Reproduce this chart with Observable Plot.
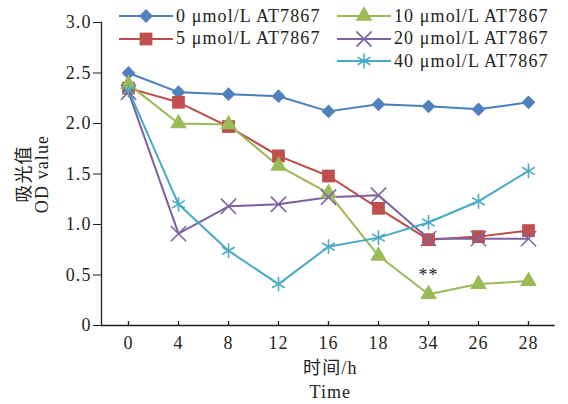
<!DOCTYPE html>
<html><head><meta charset="utf-8">
<script src="https://cdn.jsdelivr.net/npm/d3@7"></script>
<script src="https://cdn.jsdelivr.net/npm/@observablehq/plot@0.6"></script>
<style>
body{margin:0;background:#fff;}
#wrap{position:relative;width:568px;height:404px;font-family:'Liberation Serif','Noto Sans CJK SC',serif;color:#231f20;}
#legend{position:absolute;left:119px;top:5px;display:grid;grid-template-columns:218px 218px;grid-template-rows:repeat(3,22.5px);grid-auto-flow:column;font-size:18px;letter-spacing:1.1px;}
.item{display:flex;align-items:center;white-space:nowrap;}
.item svg{margin-right:3px;display:block;}
</style></head><body><div id="wrap"><div id="legend"></div></div>
<script>
// categories (time points, shown in the original order)
const times = ["0", "4", "8", "12", "16", "18", "34", "26", "28"];
// series names
const seriesNames = ["0 μmol/L AT7867", "5 μmol/L AT7867", "10 μmol/L AT7867", "20 μmol/L AT7867", "40 μmol/L AT7867"];
// OD values per series
const od0  = [2.50, 2.31, 2.29, 2.27, 2.12, 2.19, 2.17, 2.14, 2.21];
const od5  = [2.35, 2.21, 1.97, 1.68, 1.48, 1.16, 0.85, 0.88, 0.94];
const od10 = [2.39, 2.00, 1.99, 1.58, 1.31, 0.69, 0.31, 0.41, 0.44];
const od20 = [2.31, 0.91, 1.18, 1.20, 1.27, 1.29, 0.86, 0.86, 0.86];
const od40 = [2.33, 1.20, 0.74, 0.41, 0.78, 0.87, 1.02, 1.23, 1.53];
const seriesValues = [od0, od5, od10, od20, od40];
// y tick labels
const yTicks = [0, 0.5, 1.0, 1.5, 2.0, 2.5, 3.0];
// annotation
const noteTime = ["34"];
const noteValue = [0.5];
const noteText = ["**"];
// titles
const yTitleCn = "吸光值", yTitleEn = "OD value";
const xTitleCn = "时间/h", xTitleEn = "Time";

// styles
const lineColors   = ["#4A7EBB", "#BE4B48", "#98B954", "#7D60A0", "#46AAC5"];
const markerColors = ["#4F81BD", "#C0504D", "#9BBB59", "#8064A2", "#4BACC6"];
const symbols = ["diamond2", "square", "triangle", "times", "asterisk"];
const d3symbols = [d3.symbolDiamond2, d3.symbolSquare, d3.symbolTriangle, d3.symbolTimes, d3.symbolAsterisk];
const radii = [6.2, 7.2, 6.2, 7, 7];
const filled = [true, true, true, false, false];
const axisColor = "#231f20";

const rows = [];
seriesValues.forEach((vals, si) => vals.forEach((v, i) => rows.push({series: si, time: times[i], value: v})));

const marks = [];
seriesValues.forEach((vals, si) => {
  const data = rows.filter(r => r.series === si);
  marks.push(Plot.line(data, {x: "time", y: "value", stroke: lineColors[si], strokeWidth: 2}));
});
seriesValues.forEach((vals, si) => {
  const data = rows.filter(r => r.series === si);
  marks.push(Plot.dot(data, filled[si]
    ? {x: "time", y: "value", symbol: () => symbols[si], r: radii[si], fill: markerColors[si], stroke: "none"}
    : {x: "time", y: "value", symbol: () => symbols[si], r: radii[si], fill: "none", stroke: markerColors[si], strokeWidth: 1.6}));
});
marks.push(Plot.text(noteTime.map((t, i) => ({time: t, value: noteValue[i], text: noteText[i]})), {x: "time", y: "value", text: "text", fill: axisColor}));

marks.push(Plot.axisY({ticks: yTicks, tickSize: 8, tickPadding: 2, tickFormat: d => d === 0 ? "0" : d.toFixed(1), label: null, stroke: axisColor, fill: axisColor}));
marks.push(Plot.axisX({tickSize: -4, tickPadding: 15, label: null, stroke: axisColor, fill: axisColor, strokeWidth: 1.3}));
marks.push(Plot.ruleY([0], {stroke: axisColor, strokeWidth: 1.3}));
marks.push(Plot.frame({anchor: "left", stroke: axisColor, strokeWidth: 1.3}));

marks.push(Plot.text([yTitleCn], {frameAnchor: "left", text: d => d, rotate: -90, dx: -77, textAnchor: "middle", lineAnchor: "middle", fill: axisColor}));
marks.push(Plot.text([yTitleEn], {frameAnchor: "left", text: d => d, rotate: -90, dx: -59, textAnchor: "middle", lineAnchor: "middle", fill: axisColor}));
marks.push(Plot.text([xTitleCn], {frameAnchor: "bottom", text: d => d, dy: 42.5, dx: 2, textAnchor: "middle", lineAnchor: "middle", fill: axisColor}));
marks.push(Plot.text([xTitleEn], {frameAnchor: "bottom", text: d => d, dy: 67, dx: 2, textAnchor: "middle", lineAnchor: "middle", fill: axisColor}));

const chart = Plot.plot({
  width: 568, height: 404,
  marginTop: 22, marginBottom: 79, marginLeft: 101, marginRight: 13.4,
  x: {type: "point", domain: times, padding: 0.5},
  y: {domain: [0, 3]},
  style: {fontFamily: "'Liberation Serif','Noto Sans CJK SC',serif", fontSize: "18px", letterSpacing: "1.1px", background: "white", color: axisColor},
  marks
});
document.getElementById("wrap").prepend(chart);

// legend (two columns; empty slot after the second entry)
const legend = document.getElementById("legend");
const order = [0, 1, -1, 2, 3, 4];
order.forEach(si => {
  const item = document.createElement("div");
  item.className = "item";
  if (si >= 0) {
    const sw = d3.create("svg").attr("width", 54).attr("height", 22);
    sw.append("line").attr("x1", 0).attr("x2", 54).attr("y1", 11).attr("y2", 11).attr("stroke", lineColors[si]).attr("stroke-width", 2);
    sw.append("path").attr("transform", "translate(27,11)")
      .attr("d", d3.symbol(d3symbols[si], Math.PI * radii[si] * radii[si])())
      .attr("fill", filled[si] ? markerColors[si] : "none")
      .attr("stroke", filled[si] ? "none" : markerColors[si])
      .attr("stroke-width", 1.6);
    item.appendChild(sw.node());
    const t = document.createElement("span");
    t.textContent = seriesNames[si];
    item.appendChild(t);
  }
  legend.appendChild(item);
});
</script></body></html>
